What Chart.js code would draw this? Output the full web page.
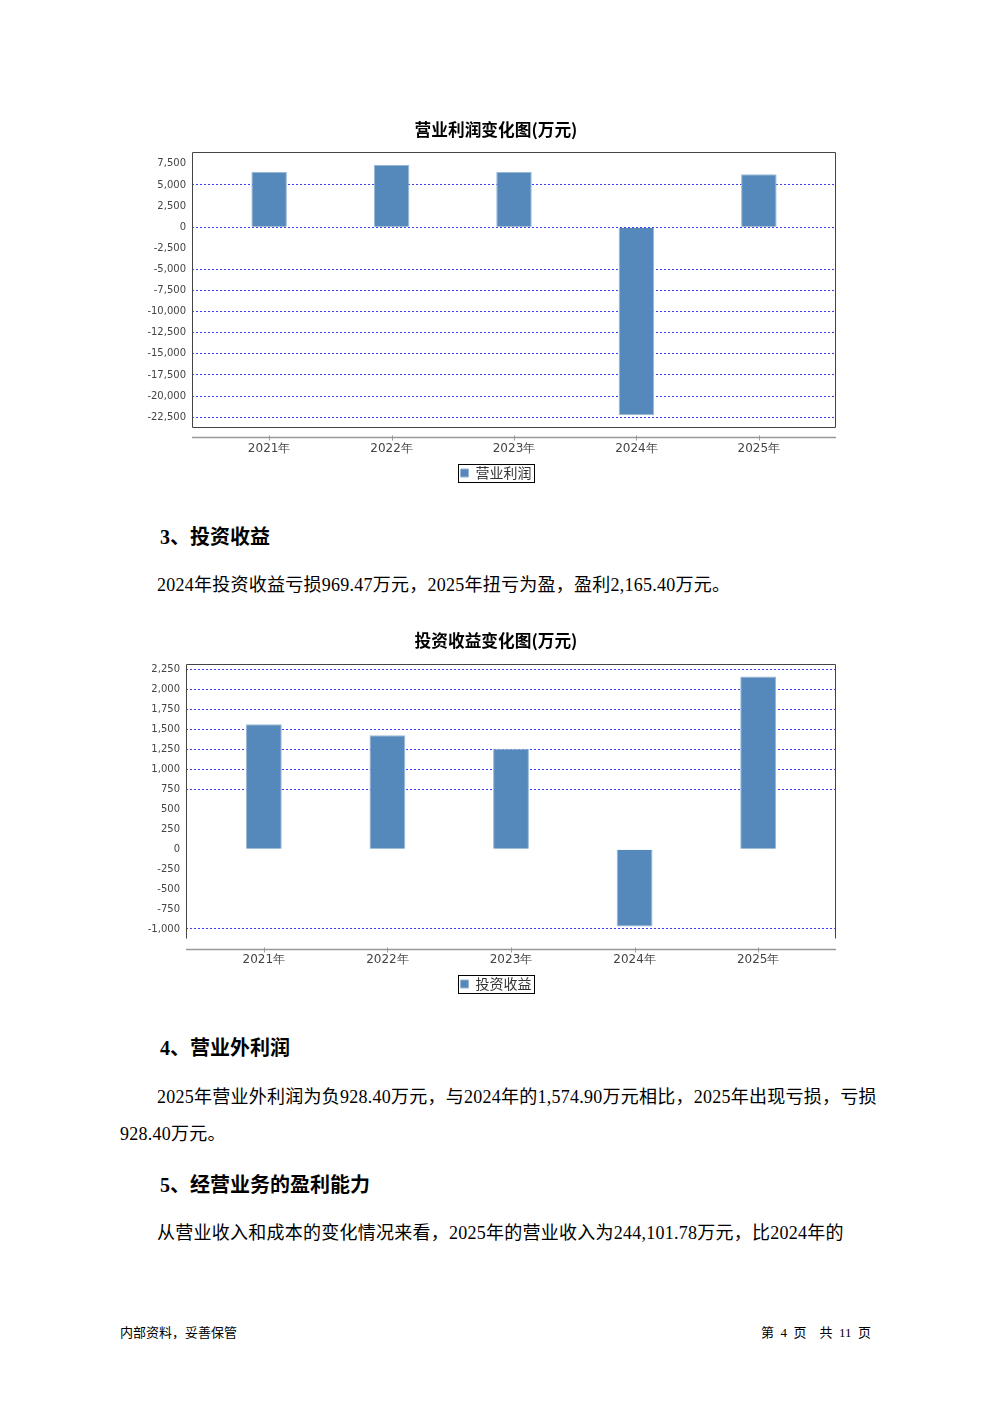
<!DOCTYPE html>
<html>
<head>
<meta charset="utf-8">
<script src="https://cdn.jsdelivr.net/npm/chart.js@4.4.1/dist/chart.umd.min.js"></script>
<style>
  body { margin: 0; background: #fff; }
  #page { position: relative; width: 992px; height: 1403px; background: #fff; overflow: hidden; }
  .line { position: absolute; white-space: nowrap; color: #000; letter-spacing: 0.25px;
          font-family: "Liberation Serif", "Noto Sans CJK SC", serif; font-size: 18px; line-height: 24px; }
  .head { font-weight: bold; font-size: 20px; letter-spacing: 0; }
  .foot { font-family: "Liberation Serif", "Noto Sans CJK SC", sans-serif; font-size: 13px; line-height: 18px;
          white-space: pre; letter-spacing: 0; }
  .box { position: absolute; }
</style>
</head>
<body>
<div id="page">
  <div class="box" style="left:140px; top:115px; width:712px; height:375px;"><canvas id="profitChart"></canvas></div>

  <div class="line head" style="left:160px; top:525px;">3、投资收益</div>
  <div class="line" style="left:157px; top:573px;">2024年投资收益亏损969.47万元，2025年扭亏为盈，盈利2,165.40万元。</div>

  <div class="box" style="left:140px; top:626px; width:712px; height:375px;"><canvas id="investChart"></canvas></div>

  <div class="line head" style="left:160px; top:1036px;">4、营业外利润</div>
  <div class="line" style="left:157px; top:1085px; width:719px; text-align:justify; text-align-last:justify;">2025年营业外利润为负928.40万元，与2024年的1,574.90万元相比，2025年出现亏损，亏损</div>
  <div class="line" style="left:120px; top:1122px;">928.40万元。</div>

  <div class="line head" style="left:160px; top:1173px;">5、经营业务的盈利能力</div>
  <div class="line" style="left:157px; top:1221px;">从营业收入和成本的变化情况来看，2025年的营业收入为244,101.78万元，比2024年的</div>

  <div class="line foot" style="left:120px; top:1324px;">内部资料，妥善保管</div>
  <div class="line foot" style="right:121px; top:1324px;">第  4  页    共  11  页</div>
</div>

<script>
// Data
const years = ['2021年', '2022年', '2023年', '2024年', '2025年'];
const profitValues = [6550, 7380, 6550, -22260, 6270];
const investValues = [1567, 1429, 1261, -969.47, 2165.40];

const profitTicks = [-22500, -20000, -17500, -15000, -12500, -10000, -7500, -5000, -2500, 0, 2500, 5000, 7500];
const investTicks = [-1000, -750, -500, -250, 0, 250, 500, 750, 1000, 1250, 1500, 1750, 2000, 2250];

// grid lines the reference leaves out
const profitNoGrid = [7500, 2500, -2500];
const investNoGrid = [500, 250, 0, -250, -500, -750];

const BAR = '#5589bb';
const GRID = '#3c3cff';

// Plot frame, separate x axis line and legend box
const framePlugin = {
    id: 'frame',
    afterDraw(chart, args, opts) {
        const { ctx, chartArea: a } = chart;
        const l = Math.round(a.left) + 0.5, r = Math.round(a.right) - 0.5;
        const t = Math.round(a.top) + 0.5, b = Math.round(a.bottom) - 0.5;
        ctx.save();
        ctx.lineWidth = 1;
        ctx.strokeStyle = '#444';
        ctx.beginPath();
        ctx.moveTo(l, b); ctx.lineTo(l, t); ctx.lineTo(r, t); ctx.lineTo(r, b);
        if (opts.bottom) ctx.lineTo(l, b);
        ctx.stroke();

        // x axis line below the plot
        const y = Math.round(a.bottom + opts.gap) + 0.5;
        ctx.strokeStyle = '#999';
        ctx.lineWidth = 1.5;
        ctx.beginPath();
        ctx.moveTo(a.left, y); ctx.lineTo(a.right, y);
        ctx.stroke();
        ctx.lineWidth = 1;
        const xs = chart.scales.x;
        xs.ticks.forEach(tk => {
            const px = Math.round(xs.getPixelForValue(tk.value)) + 0.5;
            ctx.beginPath();
            ctx.moveTo(px, y - 2); ctx.lineTo(px, y + 3);
            ctx.stroke();
        });

        // legend border
        const hb = chart.legend.legendHitBoxes[0];
        if (hb) {
            ctx.strokeStyle = '#000';
            ctx.strokeRect(Math.round(hb.left - 3) + 0.5, Math.round(hb.top - 2) + 0.5,
                Math.round(hb.width + 5), Math.round(hb.height + 4));
        }
        ctx.restore();
    }
};

function makeChart(id, title, label, values, ticks, noGrid, yMin, yMax, axisWidth, titleBottom, frameOpts) {
    return new Chart(document.getElementById(id), {
        type: 'bar',
        data: {
            datasets: [{
                label: label,
                data: values.map((v, i) => ({ x: i, y: v })),
                backgroundColor: BAR,
                borderColor: '#9ab8d6',
                borderWidth: 1,
                barPercentage: 0.29,
                categoryPercentage: 1
            }]
        },
        options: {
            responsive: true,
            maintainAspectRatio: false,
            animation: false,
            layout: { padding: 0 },
            scales: {
                x: {
                    type: 'linear',
                    offset: false,
                    min: -0.63,
                    max: 4.63,
                    afterBuildTicks: s => { s.ticks = years.map((_, i) => ({ value: i })); },
                    afterFit: s => { s.height = 28; },
                    grid: { display: false, drawTicks: false },
                    border: { display: false },
                    ticks: {
                        callback: v => years[v],
                        autoSkip: false,
                        maxRotation: 0,
                        padding: 14,
                        color: '#444',
                        font: { family: 'DejaVu Sans', size: 12 }
                    }
                },
                y: {
                    min: yMin,
                    max: yMax,
                    afterBuildTicks: s => { s.ticks = ticks.map(v => ({ value: v })); },
                    afterFit: s => { s.width = axisWidth; },
                    grid: {
                        drawTicks: false,
                        lineWidth: 1,
                        color: c => (c.tick && noGrid.includes(c.tick.value)) ? 'rgba(0,0,0,0)' : GRID
                    },
                    border: { display: false, dash: [2, 2] },
                    ticks: {
                        callback: v => v.toLocaleString('en-US'),
                        padding: 6,
                        color: '#444',
                        font: { family: 'DejaVu Sans', size: 10 }
                    }
                },
                // empty strip on the right, keeps the title centred on the page
                side: {
                    type: 'linear',
                    position: 'right',
                    afterFit: s => { s.width = 16; },
                    grid: { display: false, drawTicks: false },
                    border: { display: false },
                    ticks: { display: false }
                }
            },
            plugins: {
                title: {
                    display: true,
                    text: title,
                    color: '#000',
                    font: { family: 'Noto Sans CJK SC', size: 16.7, weight: 'bold' },
                    padding: { top: 5, bottom: titleBottom }
                },
                legend: {
                    position: 'bottom',
                    labels: {
                        boxWidth: 8,
                        boxHeight: 8,
                        padding: 10,
                        color: '#333',
                        font: { family: 'Noto Sans CJK SC', size: 14 }
                    }
                },
                tooltip: { enabled: false },
                frame: frameOpts
            }
        },
        plugins: [framePlugin]
    });
}

makeChart('profitChart', '营业利润变化图(万元)', '营业利润', profitValues, profitTicks, profitNoGrid,
    -23780, 8900, 52, 12, { bottom: true, gap: 9 });
makeChart('investChart', '投资收益变化图(万元)', '投资收益', investValues, investTicks, investNoGrid,
    -1126, 2322, 46, 13, { bottom: false, gap: 10 });
</script>
</body>
</html>
